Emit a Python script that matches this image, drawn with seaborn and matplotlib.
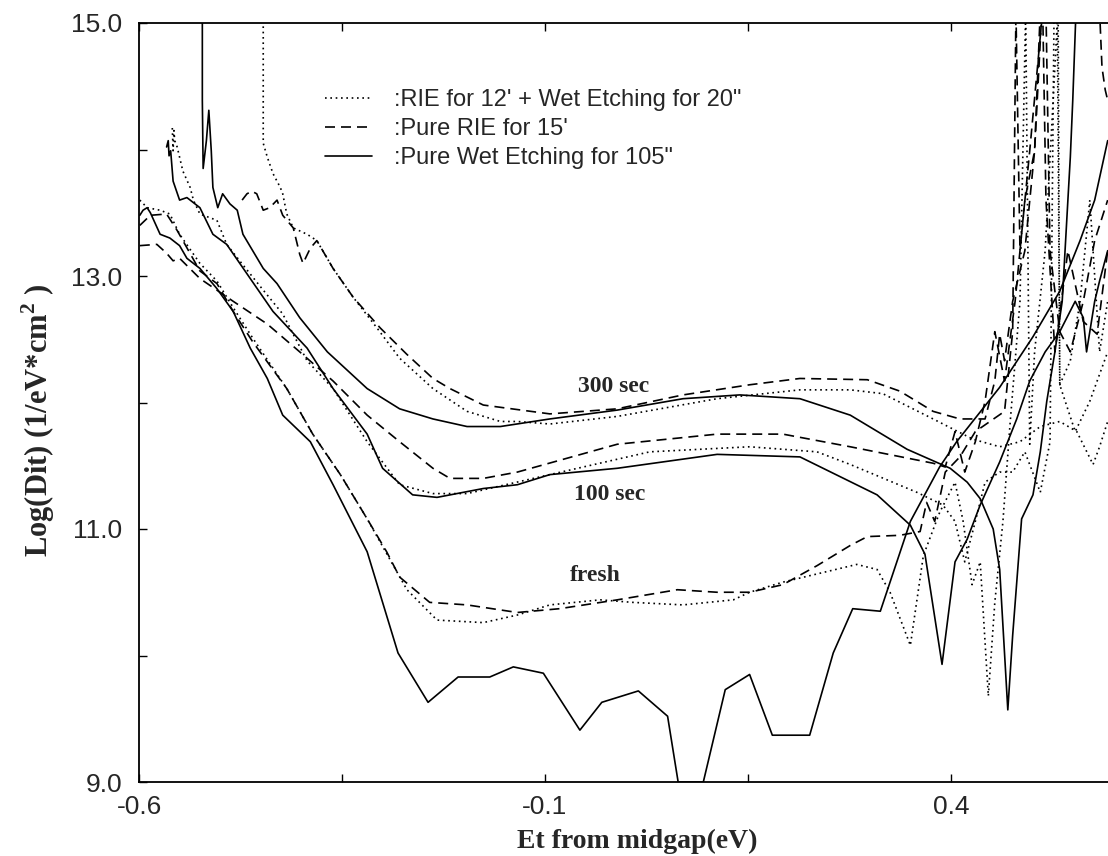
import numpy as np
import pandas as pd
import matplotlib
matplotlib.use("Agg")
import matplotlib.pyplot as plt
from matplotlib.ticker import FixedLocator, FormatStrFormatter
import seaborn as sns

# treatments / stages
treatments = ["RIE for 12' + Wet Etching for 20\"", "Pure RIE for 15'", "Pure Wet Etching for 105\""]
stages = ["fresh", "100 sec", "300 sec"]

# --- RIE 12' + wet 20" (dotted) ---
rw_fresh_x = [-0.599, -0.590, -0.574, -0.562, -0.550, -0.525, -0.504, -0.484, -0.460, -0.418, -0.386, -0.352,
              -0.319, -0.291, -0.270, -0.233, -0.176, -0.134, -0.094, -0.032, 0.008, 0.070, 0.132, 0.152, 0.193,
              0.284, 0.309, 0.325, 0.350, 0.366, 0.386, 0.405, 0.415, 0.426, 0.436, 0.446, 0.454, 0.464, 0.473,
              0.485, 0.492, 0.497, 0.503, 0.516, 0.531, 0.534, 0.547, 0.559, 0.571, 0.583, 0.593]
rw_fresh_y = [13.60, 13.54, 13.52, 13.49, 13.33, 13.10, 12.96, 12.75, 12.51, 12.11, 11.75, 11.43,
              11.08, 10.76, 10.52, 10.28, 10.26, 10.32, 10.40, 10.44, 10.42, 10.40, 10.44, 10.50, 10.58,
              10.72, 10.68, 10.50, 10.08, 10.79, 11.13, 11.37, 11.06, 10.56, 10.74, 9.68, 10.42, 11.06, 11.85,
              12.80, 15.10, 11.67, 12.40, 13.20, 15.02, 12.14, 12.33, 12.80, 13.60, 12.40, 12.80]

rw_100_x = [-0.559, -0.558, -0.557, -0.556, -0.553, -0.546, -0.537, -0.533, -0.525, -0.504, -0.492, -0.476,
            -0.451, -0.423, -0.393, -0.361, -0.319, -0.279, -0.238, -0.196, -0.094, 0.029, 0.152, 0.235, 0.276,
            0.358, 0.390, 0.405, 0.417, 0.430, 0.442, 0.460, 0.476, 0.491, 0.510, 0.522, 0.527, 0.532, 0.534,
            0.553, 0.571, 0.593]
rw_100_y = [14.17, 13.99, 14.15, 14.07, 14.02, 13.83, 13.70, 13.60, 13.49, 13.44, 13.25, 13.12,
            12.92, 12.70, 12.33, 12.11, 11.69, 11.35, 11.28, 11.28, 11.43, 11.61, 11.65, 11.61, 11.51,
            11.29, 11.19, 11.06, 10.74, 11.06, 11.37, 11.45, 11.45, 11.61, 11.29, 11.69, 15.10, 15.10, 12.14,
            11.77, 12.01, 12.40]

rw_300_x = [-0.447, -0.447, -0.442, -0.435, -0.426, -0.423, -0.418, -0.410, -0.393, -0.381, -0.361, -0.336,
            -0.307, -0.279, -0.238, -0.196, -0.155, -0.134, -0.094, -0.011, 0.112, 0.214, 0.276, 0.316, 0.378,
            0.427, 0.460, 0.485, 0.510, 0.534, 0.555, 0.575, 0.583, 0.593]
rw_300_y = [15.10, 14.05, 13.94, 13.81, 13.70, 13.65, 13.49, 13.38, 13.33, 13.28, 13.06, 12.83,
            12.59, 12.35, 12.11, 11.93, 11.85, 11.85, 11.83, 11.89, 12.03, 12.10, 12.10, 12.07, 11.87,
            11.71, 11.65, 11.69, 11.81, 11.85, 11.77, 11.51, 11.65, 11.85]

# --- pure RIE 15' (dashed) ---
rie_fresh_x = [-0.599, -0.586, -0.566, -0.553, -0.525, -0.504, -0.484, -0.460, -0.418, -0.386, -0.352, -0.319,
               -0.295, -0.279, -0.242, -0.196, -0.134, -0.082, -0.011, 0.063, 0.112, 0.152, 0.193, 0.235, 0.276,
               0.297, 0.337, 0.362, 0.370, 0.380, 0.393, 0.411, 0.430, 0.448, 0.466, 0.476, 0.480, 0.485, 0.497,
               0.513, 0.517, 0.528, 0.544, 0.563, 0.580, 0.593]
rie_fresh_y = [13.40, 13.48, 13.49, 13.36, 13.04, 12.94, 12.72, 12.48, 12.11, 11.75, 11.43, 11.08,
               10.82, 10.62, 10.42, 10.40, 10.34, 10.37, 10.44, 10.52, 10.50, 10.50, 10.56, 10.71, 10.87,
               10.94, 10.95, 10.98, 11.21, 11.06, 11.45, 11.57, 11.77, 11.85, 11.93, 12.56, 15.10, 13.20, 13.99,
               15.10, 13.60, 12.40, 13.20, 12.64, 12.54, 13.20]

rie_100_x = [-0.599, -0.578, -0.566, -0.558, -0.550, -0.525, -0.484, -0.442, -0.402, -0.361, -0.319, -0.279,
             -0.238, -0.217, -0.176, -0.134, -0.011, 0.112, 0.193, 0.276, 0.378, 0.393, 0.405, 0.417, 0.430,
             0.442, 0.454, 0.466, 0.479, 0.491, 0.503, 0.510, 0.517, 0.522, 0.534, 0.547, 0.563, 0.577, 0.593]
rie_100_y = [13.24, 13.25, 13.18, 13.12, 13.14, 12.98, 12.80, 12.62, 12.40, 12.17, 11.90, 11.69,
             11.48, 11.40, 11.40, 11.45, 11.67, 11.75, 11.75, 11.65, 11.52, 11.49, 11.77, 11.45, 11.69,
             12.01, 12.56, 12.17, 12.80, 13.60, 13.99, 15.10, 15.10, 13.20, 12.56, 12.40, 12.80, 13.28, 13.60]

rie_300_x = [-0.473, -0.467, -0.461, -0.455, -0.447, -0.439, -0.430, -0.423, -0.410, -0.402, -0.398, -0.389,
             -0.381, -0.361, -0.336, -0.303, -0.270, -0.238, -0.217, -0.176, -0.094, -0.011, 0.070, 0.152, 0.214,
             0.297, 0.337, 0.378, 0.411, 0.442, 0.454, 0.460, 0.466, 0.476, 0.491, 0.503, 0.512, 0.583, 0.586,
             0.590, 0.593]
rie_300_y = [13.60, 13.65, 13.67, 13.65, 13.52, 13.54, 13.60, 13.48, 13.38, 13.17, 13.10, 13.22,
             13.28, 13.06, 12.83, 12.59, 12.38, 12.19, 12.11, 11.98, 11.91, 11.95, 12.06, 12.14, 12.19,
             12.18, 12.09, 11.93, 11.87, 11.87, 12.17, 12.54, 12.33, 12.80, 13.20, 13.99, 15.10, 15.10, 14.65,
             14.47, 14.39]

# --- pure wet 105" (solid) ---
wet_fresh_x = [-0.599, -0.595, -0.590, -0.586, -0.574, -0.562, -0.550, -0.541, -0.525, -0.504, -0.484, -0.463,
               -0.442, -0.423, -0.389, -0.361, -0.319, -0.300, -0.281, -0.244, -0.207, -0.168, -0.139, -0.102,
               -0.057, -0.030, 0.015, 0.051, 0.064, 0.095, 0.122, 0.152, 0.180, 0.226, 0.255, 0.279, 0.313,
               0.350, 0.386, 0.407, 0.460, 0.501, 0.534, 0.559, 0.577, 0.593]
wet_fresh_y = [13.48, 13.52, 13.54, 13.50, 13.33, 13.30, 13.24, 13.14, 13.06, 12.90, 12.72, 12.43,
               12.19, 11.90, 11.69, 11.35, 10.82, 10.42, 10.02, 9.63, 9.83, 9.83, 9.91, 9.86,
               9.41, 9.63, 9.72, 9.52, 9.00, 9.00, 9.73, 9.85, 9.37, 9.37, 10.02, 10.37, 10.35,
               11.06, 11.49, 11.69, 12.12, 12.52, 12.88, 13.28, 13.60, 14.07]

wet_100_x = [-0.566, -0.564, -0.563, -0.561, -0.558, -0.550, -0.541, -0.525, -0.509, -0.492, -0.463, -0.435,
             -0.393, -0.361, -0.319, -0.300, -0.263, -0.233, -0.176, -0.134, -0.094, -0.011, 0.112, 0.214,
             0.309, 0.350, 0.368, 0.389, 0.405, 0.420, 0.436, 0.460, 0.481, 0.497, 0.516, 0.534, 0.553,
             0.563, 0.567, 0.571, 0.577, 0.583, 0.593]
wet_100_y = [14.02, 14.07, 13.95, 13.99, 13.75, 13.60, 13.62, 13.54, 13.33, 13.25, 12.98, 12.72,
             12.43, 12.11, 11.75, 11.48, 11.27, 11.25, 11.32, 11.35, 11.43, 11.48, 11.59, 11.57,
             11.27, 11.03, 10.80, 9.93, 10.74, 10.92, 11.19, 11.53, 11.87, 12.17, 12.40, 12.56, 12.80,
             12.67, 12.40, 12.56, 12.80, 12.96, 13.20]

wet_300_x = [-0.522, -0.522, -0.521, -0.517, -0.514, -0.511, -0.509, -0.503, -0.497, -0.488, -0.479, -0.472,
             -0.447, -0.430, -0.402, -0.368, -0.319, -0.279, -0.238, -0.196, -0.155, -0.094, -0.011, 0.070,
             0.140, 0.214, 0.276, 0.346, 0.399, 0.420, 0.436, 0.452, 0.460, 0.470, 0.476, 0.487, 0.501,
             0.510, 0.518, 0.528, 0.537, 0.544, 0.547, 0.550, 0.554]
wet_300_y = [15.10, 14.39, 13.85, 14.07, 14.31, 13.99, 13.70, 13.54, 13.65, 13.57, 13.52, 13.33,
             13.06, 12.94, 12.67, 12.40, 12.11, 11.95, 11.87, 11.81, 11.81, 11.87, 11.94, 12.03,
             12.06, 12.03, 11.90, 11.63, 11.48, 11.37, 11.24, 11.00, 10.68, 9.57, 10.16, 11.08, 11.27,
             11.61, 12.01, 12.40, 12.80, 13.60, 13.94, 14.39, 15.10]

curves = [
    (treatments[0], stages[0], rw_fresh_x, rw_fresh_y),
    (treatments[0], stages[1], rw_100_x, rw_100_y),
    (treatments[0], stages[2], rw_300_x, rw_300_y),
    (treatments[1], stages[0], rie_fresh_x, rie_fresh_y),
    (treatments[1], stages[1], rie_100_x, rie_100_y),
    (treatments[1], stages[2], rie_300_x, rie_300_y),
    (treatments[2], stages[0], wet_fresh_x, wet_fresh_y),
    (treatments[2], stages[1], wet_100_x, wet_100_y),
    (treatments[2], stages[2], wet_300_x, wet_300_y),
]

frames = []
for treat, stage, xs, ys in curves:
    frames.append(pd.DataFrame({"Et": xs, "logDit": ys, "treatment": treat, "stage": stage}))
df = pd.concat(frames, ignore_index=True)

line_styles = {
    treatments[0]: dict(linestyle=(0, (1, 2.2)), linewidth=1.2),
    treatments[1]: dict(linestyle=(0, (6, 3.6)), linewidth=1.2),
    treatments[2]: dict(linestyle="-", linewidth=1.2),
}

sns.set_theme(style="ticks")
plt.rcParams["font.family"] = ["Liberation Sans", "DejaVu Sans"]
plt.rcParams["mathtext.fontset"] = "custom"
plt.rcParams["mathtext.rm"] = "Liberation Serif:bold"
plt.rcParams["mathtext.bf"] = "Liberation Serif:bold"

fig = plt.figure(figsize=(11.08, 8.56), dpi=100)
ax = fig.add_axes([139 / 1108, 74 / 856, 969 / 1108, 759 / 856])

handles = {}
for (treat, stage), sub in df.groupby(["treatment", "stage"], sort=False):
    sns.lineplot(data=sub, x="Et", y="logDit", ax=ax, sort=False, estimator=None,
                 color="black", legend=False, **line_styles[treat])
    handles[treat] = ax.lines[-1]

ax.set_xlim(-0.6, 0.5934)
ax.set_ylim(9.0, 15.0)

ax.xaxis.set_major_locator(FixedLocator([-0.6, -0.1, 0.4]))
ax.xaxis.set_minor_locator(FixedLocator([-0.35, 0.15]))
ax.yaxis.set_major_locator(FixedLocator([9.0, 11.0, 13.0, 15.0]))
ax.yaxis.set_minor_locator(FixedLocator([10.0, 12.0, 14.0]))
ax.xaxis.set_major_formatter(FormatStrFormatter("%.1f"))
ax.yaxis.set_major_formatter(FormatStrFormatter("%.1f"))
ax.tick_params(which="both", direction="in", top=True, right=False, width=1.0, color="black")
ax.tick_params(which="major", length=6, labelsize=19)
ax.tick_params(which="minor", length=6)
ax.tick_params(axis="x", pad=9)
ax.tick_params(axis="y", pad=12)

for side in ["left", "bottom", "top"]:
    ax.spines[side].set_linewidth(1.3)
    ax.spines[side].set_color("black")
ax.spines["right"].set_visible(False)

ax.set_xlabel("Et from midgap(eV)", family="Liberation Serif", fontweight="bold", fontsize=20)
ax.xaxis.set_label_coords(0.514, -0.062)
ax.set_ylabel("Log(Dit) (1/eV*cm$^{2}$ )", family="Liberation Serif", fontweight="bold",
              fontsize=22, va="center")
ax.yaxis.set_label_coords(-0.104, 0.476)

label_font = dict(family="Liberation Serif", fontweight="bold", fontsize=17, ha="center", va="center")
ax.text(-0.015, 12.13, "300 sec", **label_font)
ax.text(-0.021, 11.27, "100 sec", **label_font)
ax.text(-0.038, 10.63, "fresh", **label_font)

leg = ax.legend([handles[t] for t in treatments], [":" + t for t in treatments],
                loc="upper left", bbox_to_anchor=(0.192, 0.913), frameon=False,
                fontsize=17, handlelength=2.0, handletextpad=0.9, labelspacing=0.3,
                borderpad=0, borderaxespad=0)

fig.savefig("out.png", dpi=100)
